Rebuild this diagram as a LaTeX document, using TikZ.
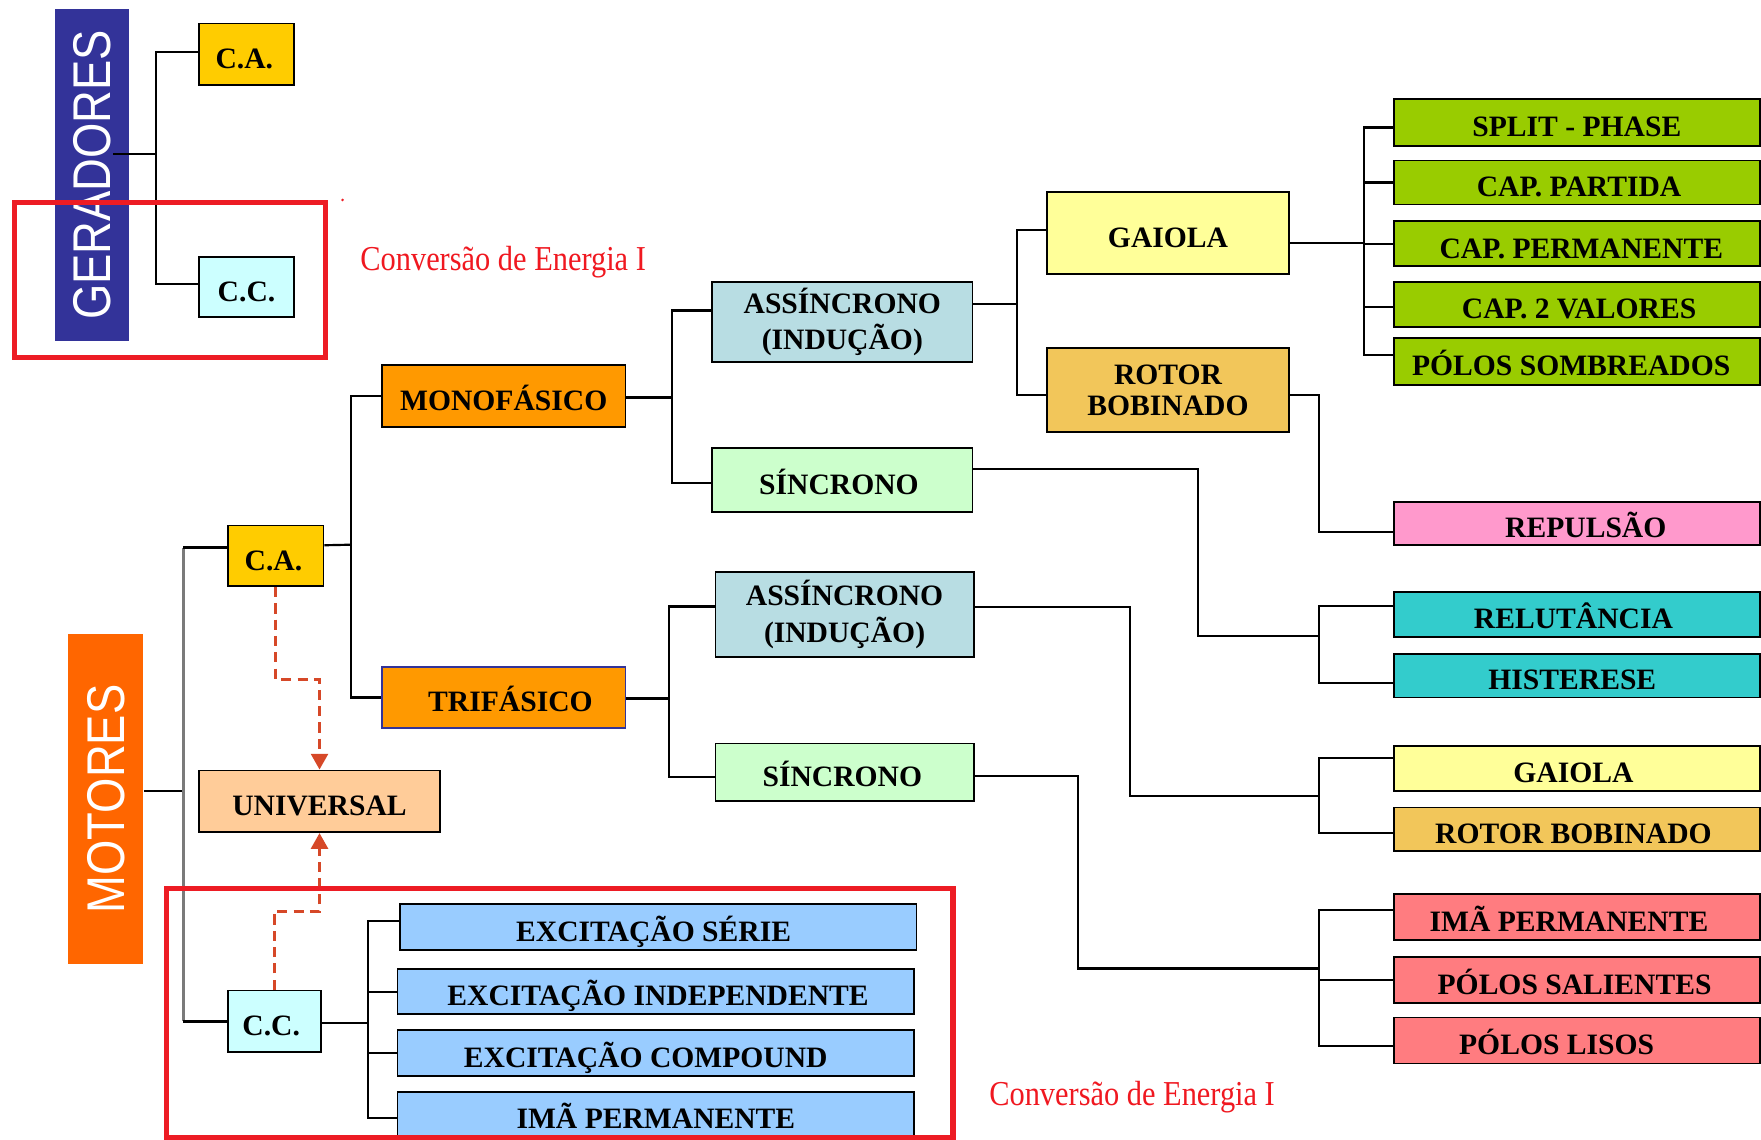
\documentclass[tikz,border=0pt]{standalone}
\usepackage{fontspec}
\setmainfont{Liberation Serif}
\newfontfamily\arialf{Liberation Sans}
\usetikzlibrary{arrows.meta}
\definecolor{gerblue}{HTML}{333399}
\definecolor{motorange}{HTML}{FF6600}
\definecolor{cgold}{HTML}{FFCC00}
\definecolor{ccyan}{HTML}{CCFFFF}
\definecolor{cpeach}{HTML}{FFCC99}
\definecolor{corange}{HTML}{FF9900}
\definecolor{cltblue}{HTML}{B8DDE3}
\definecolor{cltgreen}{HTML}{CCFFCC}
\definecolor{cpaleyel}{HTML}{FFFF99}
\definecolor{crotor}{HTML}{F2C65A}
\definecolor{cgreen}{HTML}{99CC00}
\definecolor{cpink}{HTML}{FF99CC}
\definecolor{cteal}{HTML}{33CCCC}
\definecolor{csalmon}{HTML}{FF7C80}
\definecolor{cblue}{HTML}{99CCFF}
\definecolor{cframe}{HTML}{ED1C24}
\definecolor{ctext}{HTML}{F01820}
\definecolor{cdash}{HTML}{D64828}
\definecolor{cgrayl}{HTML}{7A7A7A}
\newcommand\mybox[8][]{\node[boxbase,fill=#7,minimum width={(#5-#3)*0.02cm},minimum height={(#6-#4)*0.02cm},#1] (#2) at ({(#3+#5)/2},{(#4+#6)/2}) {#8};}
% shift text horizontally by #1/2 px (1px = 0.02cm)
\newcommand\tshift[1]{\hspace*{\dimexpr #1\dimexpr 0.2mm\relax\relax}}
\tikzset{
  boxbase/.style={draw=black, line width=0.9pt, inner sep=0pt, font=\bfseries\fontsize{15}{18.5}\selectfont, text height=14.5pt, text depth=0pt},
  twoline/.style={align=center, text height=, text depth=},
  conn/.style={draw=black, line width=1.1pt},
  grayconn/.style={draw=cgrayl, line width=1.5pt},
  dasharr/.style={draw=cdash, line width=1.5pt, dash pattern=on 0.18cm off 0.11cm, -{Triangle[length=0.28cm,width=0.3cm]}},
  frame/.style={draw=cframe, line width=2.6pt},
  redlabel/.style={text=ctext, inner sep=0pt, font=\fontsize{15.4}{16}\selectfont},
  barbox/.style={inner sep=0pt, text=white, font=\arialf\fontsize{23}{23}\selectfont}
}
\begin{document}
\begin{tikzpicture}[x=0.02cm,y=-0.02cm]
\fill[white] (0,0) rectangle (1568,1014.2);
\useasboundingbox (0,0) rectangle (1568,1014.2);

% side bars
\node[barbox, fill=gerblue, minimum width={66*0.02cm}, minimum height={296*0.02cm}] (gerbar) at (81.7,155.7) {\rotatebox{90}{\scalebox{1}[1.17]{GERADORES}}};
\node[barbox, fill=motorange, minimum width={67*0.02cm}, minimum height={294*0.02cm}] (motbar) at (94.2,711.4) {\rotatebox{90}{\scalebox{1}[1.17]{MOTORES}}};

% generators
\mybox{gca}{177}{21}{262}{76}{cgold}{\tshift{-4}C.A.}
\mybox{gcc}{177}{229}{262}{282}{ccyan}{C.C.}

% motors level 1
\mybox{mca}{203}{468}{288}{522}{cgold}{\tshift{-4}C.A.}
\mybox{mcc}{203}{882}{286}{937}{ccyan}{\tshift{-6}C.C.}
\mybox{uni}{177}{686}{392}{741}{cpeach}{UNIVERSAL}

% level 2
\mybox{mono}{340}{325}{557}{380}{corange}{MONOFÁSICO}
\mybox[draw=gerblue]{tri}{340}{594}{557}{648}{corange}{\tshift{12}TRIFÁSICO}

% level 3
\mybox[twoline]{asm}{634}{251}{866}{322}{cltblue}{ASSÍNCRONO\\(INDUÇÃO)}
\mybox{sm}{634}{399}{866}{456}{cltgreen}{\tshift{-6}SÍNCRONO}
\mybox[twoline]{ast}{637}{509}{867}{585}{cltblue}{ASSÍNCRONO\\(INDUÇÃO)}
\mybox{st}{637}{662}{867}{713}{cltgreen}{\tshift{-4}SÍNCRONO}

% level 4 (monofasico assincrono)
\mybox{gai1}{932}{171}{1148}{244}{cpaleyel}{GAIOLA}
\mybox[twoline,font=\bfseries\fontsize{15}{15.3}\selectfont]{rot1}{932}{310}{1148}{385}{crotor}{ROTOR\\BOBINADO}

% right column
\mybox{sp}{1241}{88}{1567}{130}{cgreen}{SPLIT - PHASE}
\mybox{cp}{1241}{143}{1567}{182}{cgreen}{\tshift{4}CAP. PARTIDA}
\mybox{cpe}{1241}{197}{1567}{237}{cgreen}{\tshift{8}CAP. PERMANENTE}
\mybox{ctv}{1241}{251}{1567}{291}{cgreen}{\tshift{4}CAP. 2 VALORES}
\mybox{pso}{1241}{301}{1567}{343}{cgreen}{\tshift{-10}PÓLOS SOMBREADOS}
\mybox{rep}{1241}{447}{1567}{485}{cpink}{\tshift{16}REPULSÃO}
\mybox{rel}{1241}{527}{1567}{567}{cteal}{\tshift{-6}RELUTÂNCIA}
\mybox{his}{1241}{582}{1567}{621}{cteal}{\tshift{-8}HISTERESE}
\mybox{gai2}{1241}{664}{1567}{704}{cpaleyel}{\tshift{-6}GAIOLA}
\mybox{rot2}{1241}{719}{1567}{758}{crotor}{\tshift{-6}ROTOR BOBINADO}
\mybox{ip}{1241}{796}{1567}{837}{csalmon}{\tshift{-14}IMÃ PERMANENTE}
\mybox{psa}{1241}{852}{1567}{893}{csalmon}{\tshift{-4}PÓLOS SALIENTES}
\mybox{pli}{1241}{906}{1567}{947}{csalmon}{\tshift{-36}PÓLOS LISOS}

% c.c. motors
\mybox{es}{356}{805}{816}{846}{cblue}{\tshift{-8}EXCITAÇÃO SÉRIE}
\mybox{ei}{354}{863}{814}{903}{cblue}{\tshift{4}EXCITAÇÃO INDEPENDENTE}
\mybox{ec}{354}{917}{814}{958}{cblue}{\tshift{-18}EXCITAÇÃO COMPOUND}
\mybox{eim}{354}{972}{814}{1012}{cblue}{IMÃ PERMANENTE}

% junctions
\coordinate (jg) at (139,137);
\coordinate (jm) at (163,704);
\coordinate (jca) at (312.5,485);
\coordinate (jmo) at (598.4,354);
\coordinate (jtr) at (595.6,622);
\coordinate (jas) at (905.5,270.7);
\coordinate (jga) at (1214.6,216.5);
\coordinate (jro) at (1174.6,473.7);
\coordinate (jsm1) at (1066.5,417.6);
\coordinate (jsm2) at (1174.6,566.5);
\coordinate (jat1) at (1005.8,540.6);
\coordinate (jat2) at (1174.6,709);
\coordinate (jst1) at (959.7,690.8);
\coordinate (jst2) at (1174.6,862.3);
\coordinate (jcc) at (327.5,910.6);

% generator connectors
\draw[conn] ([xshift=-0.28cm]gerbar.east |- jg) -- (jg);
\draw[conn] (jg) |- ([yshift=0.04cm]gca.west);
\draw[conn] (jg) |- ([yshift=0.05cm]gcc.west);

% motor connectors
\draw[conn] (motbar.east |- jm) -- (jm);
\draw[grayconn] (jm |- mca.west) ++(0,-7.5) -- (jm |- mcc.west);
\draw[conn] ([yshift=0.15cm]mca.west) -- ([yshift=0.15cm]mca.west -| jm);
\draw[conn] (mcc.west) -- (mcc.west -| jm);

\draw[conn] ([yshift=0.19cm]mca.east) -- (jca);
\draw[conn] (jca) |- (mono.west);
\draw[conn] (jca) |- (tri.west);

\draw[conn] (mono.east |- jmo) -- (jmo);
\draw[conn] (jmo) |- ([yshift=0.2cm]asm.west);
\draw[conn] (jmo) |- ([yshift=-0.05cm]sm.west);

\draw[conn] (tri.east |- jtr) -- (jtr);
\draw[conn] (jtr) |- ([yshift=0.14cm]ast.west);
\draw[conn] (jtr) |- ([yshift=-0.08cm]st.west);

\draw[conn] (asm.east |- jas) -- (jas);
\draw[conn] (jas) |- ([yshift=0.06cm]gai1.west);
\draw[conn] (jas) |- ([yshift=-0.09cm]rot1.west);

\draw[conn] (gai1.east |- jga) -- (jga);
\draw[conn] (jga) |- ([yshift=-0.09cm]sp.west);
\draw[conn] (jga) |- (cp.west);
\draw[conn] (jga) |- (cpe.west);
\draw[conn] (jga) |- ([yshift=-0.04cm]ctv.west);
\draw[conn] (jga) |- ([yshift=0.12cm]pso.west);

\draw[conn] ([yshift=-0.09cm]rot1.east) -| (jro) -- (jro -| rep.west);

\draw[conn] (sm.east |- jsm1) -- (jsm1) |- (jsm2);
\draw[conn] (jsm2) |- ([yshift=0.15cm]rel.west);
\draw[conn] (jsm2) |- ([yshift=-0.13cm]his.west);

\draw[conn] (ast.east |- jat1) -- (jat1) |- (jat2);
\draw[conn] (jat2) |- ([yshift=0.18cm]gai2.west);
\draw[conn] (jat2) |- ([yshift=-0.06cm]rot2.west);

\draw[conn] (st.east |- jst1) -- (jst1) |- (jst2);
\draw[conn] (jst2) |- ([yshift=0.13cm]ip.west);
\draw[conn] (jst2) |- (psa.west);
\draw[conn] (jst2) |- ([yshift=-0.09cm]pli.west);

\draw[conn] (mcc.east |- jcc) -- (jcc);
\draw[conn] (jcc) |- ([yshift=0.11cm]es.west);
\draw[conn] (jcc) |- (ei.west);
\draw[conn] (jcc) |- (ec.west);
\draw[conn] (jcc) |- ([yshift=-0.07cm]eim.west);

% dashed arrows to UNIVERSAL
\draw[dasharr] (mca.south) -- ++(0,82) -| (uni.north);
\draw[dasharr] (mcc.north) -- ++(0,-70) -| (uni.south);

% red labels
\node[redlabel] (lbl1) at (448,233) {\scalebox{1}[1.15]{Conversão de Energia I}};
\node[redlabel] (lbl2) at (1008,976.6) {\scalebox{1}[1.15]{Conversão de Energia I}};
\fill[cframe] (305,178) circle (0.025cm);

% red frames
\draw[frame] (12.7,180) rectangle (290,318.5);
\draw[frame] (148,791) rectangle (848.5,1012.5);
\end{tikzpicture}
\end{document}
